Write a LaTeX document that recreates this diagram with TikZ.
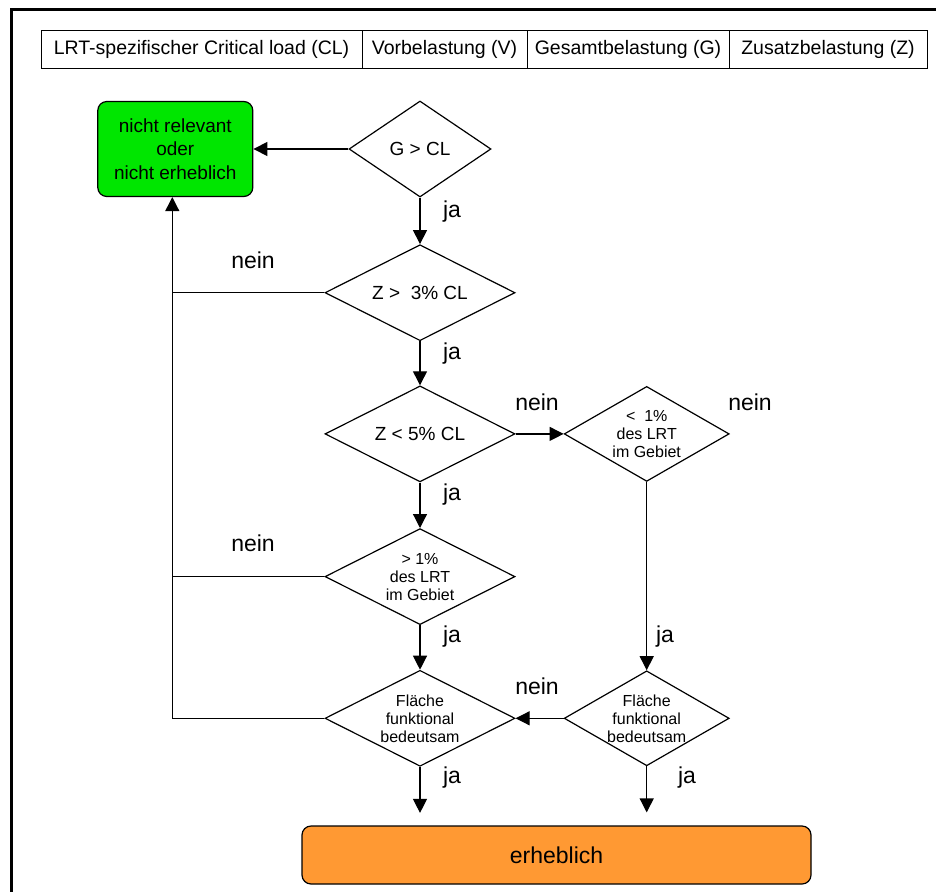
\documentclass[tikz,border=0pt]{standalone}
\usepackage{fontspec}
\setmainfont{Liberation Sans}
\usetikzlibrary{positioning,shapes.geometric,arrows.meta}

\definecolor{relgreen}{RGB}{0,230,0}
\definecolor{sigorange}{RGB}{255,153,51}

\begin{document}
\begin{tikzpicture}
    [ x = 1pt, y = -1pt
    , cell/.style =
      { draw, line width=.9pt, minimum height=38pt, inner sep=0pt, outer sep=0pt
      , font=\fontsize{19.5}{22}\selectfont }
    , decision/.style =
      { draw, diamond, aspect=2, line width=1.2pt, inner sep=-10pt
      , minimum width=190pt, minimum height=96pt, align=center
      , font=\fontsize{19}{22}\selectfont }
    , smallfont/.style =
      { font=\fontsize{16}{18}\selectfont }
    , smalldecision/.style =
      { decision, smallfont, minimum width=165pt, minimum height=95pt }
    , result/.style =
      { draw, rounded corners=9pt, line width=1.2pt, align=center }
    , flow/.style =
      { line width=1.2pt, -{Triangle[length=14pt,width=14pt]} }
    , link/.style =
      { line width=1.2pt }
    , answer/.style =
      { font=\fontsize{23}{26}\selectfont }
    ]
    \useasboundingbox (0,0) rectangle (936,891);
    \draw [line width=3pt] (11,905) -- (11,10) -- (950,10);

    % legend row
    \node [cell, minimum width=321pt] (cl) at (201.5,49) {LRT-spezifischer Critical load (CL)};
    \node [cell, minimum width=165pt] (v) [right=0pt of cl] {Vorbelastung (V)};
    \node [cell, minimum width=202pt] (g) [right=0pt of v] {Gesamtbelastung (G)};
    \node [cell, minimum width=198pt] (z) [right=0pt of g] {Zusatzbelastung (Z)};

    % decisions
    \node [decision, minimum width=142pt] (gcl) at (420,149) {G > CL};
    \node [result, fill=relgreen, minimum width=155pt, minimum height=95pt
          , font=\fontsize{19}{23.5}\selectfont] (irrel) [left=95pt of gcl]
          {nicht relevant\\oder\\nicht erheblich};
    \node [decision] (z3) [below=46.5pt of gcl] {Z >\ \ 3\% CL};
    \node [decision] (z5) [below=44pt of z3] {Z < 5\% CL};
    \node [decision, smallfont] (gt1) [below=45.5pt of z5] {> 1\%\\des LRT\\im Gebiet};
    \node [decision, smallfont] (fl) [below=44.5pt of gt1] {Fläche\\funktional\\bedeutsam};
    \node [smalldecision] (lt1) [right=48pt of z5] {<\ \ 1\%\\des LRT\\im Gebiet};
    \node [smalldecision] (fr) at (lt1 |- fl) {Fläche\\funktional\\bedeutsam};
    \node [result, fill=sigorange, minimum width=509pt, minimum height=58pt
          , font=\fontsize{23}{26}\selectfont] (sig) at (556.5,855) {erheblich};

    \coordinate (flend) at ([yshift=-46pt]fl.south);
    \coordinate (frend) at ([yshift=-46pt]fr.south);
    \coordinate (trunk) at ([xshift=-3pt]irrel.south);

    \draw [flow] (gcl) -- (irrel);
    \draw [flow] (gcl) -- (z3);
    \draw [flow] (z3) -- (z5);
    \draw [flow] (z5) -- (gt1);
    \draw [flow] (gt1) -- (fl);
    \draw [flow] (z5) -- (lt1);
    \draw [flow] (lt1) -- (fr);
    \draw [flow] (fr) -- (fl);
    \draw [flow] (fl) -- (flend);
    \draw [flow] (fr) -- (frend);
    \draw [flow] (fl.west) -| (trunk);
    \draw [link] (z3.west) -- (z3.west -| trunk);
    \draw [link] (gt1.west) -- (gt1.west -| trunk);

    % answers
    \node [answer] (ja1) at (452,212) {ja};
    \node [answer] (ja2) at (452,354) {ja};
    \node [answer] (ja3) at (452,495) {ja};
    \node [answer] (ja4) at (452,637) {ja};
    \node [answer] (ja5) at (665,637) {ja};
    \node [answer] (ja6) at (452,778) {ja};
    \node [answer] (ja7) at (687,778) {ja};
    \node [answer] (nein1) at (253,260) {nein};
    \node [answer] (nein2) at (537,402) {nein};
    \node [answer] (nein3) at (750,402) {nein};
    \node [answer] (nein4) at (253,543) {nein};
    \node [answer] (nein5) at (537,686) {nein};
\end{tikzpicture}
\end{document}
